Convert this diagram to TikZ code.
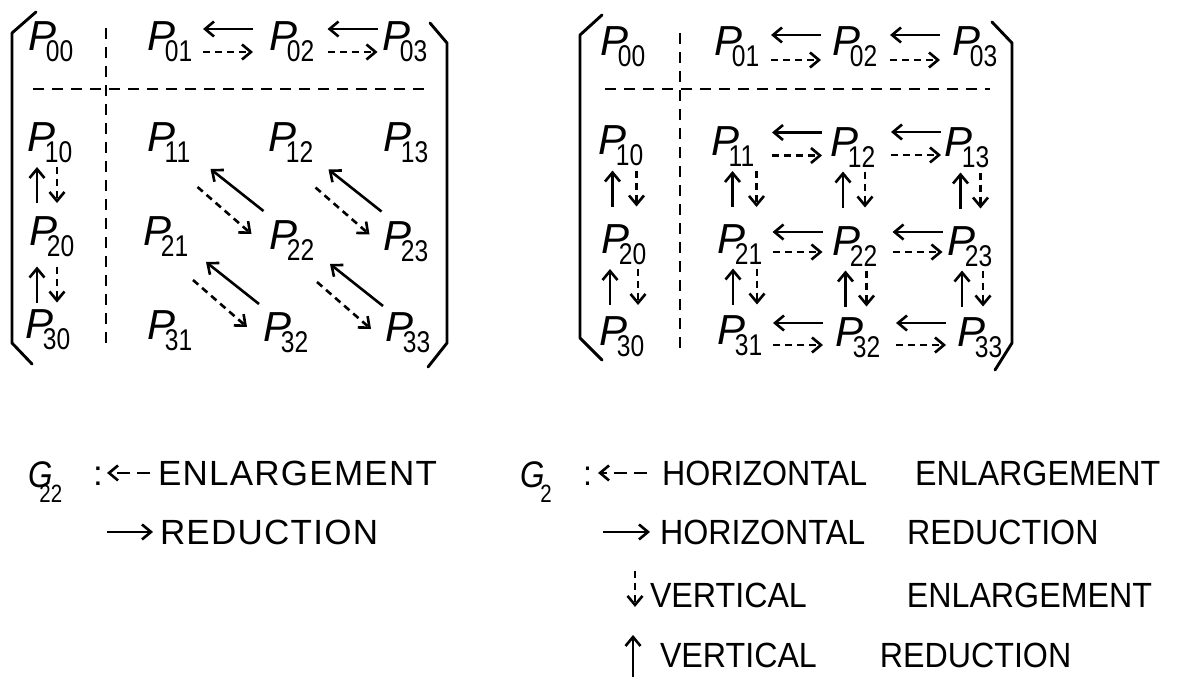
\documentclass[tikz,border=0pt]{standalone}
\usepackage{fontspec}
\setmainfont{Liberation Sans}
\newfontfamily\subfam[FakeStretch=0.82]{Liberation Sans}
\newfontfamily\gfam[FakeStretch=0.85]{Liberation Sans}
\newfontfamily\legfam[FakeStretch=0.92]{Liberation Sans}
\newfontfamily\legLfam[LetterSpace=3.6]{Liberation Sans}
\usetikzlibrary{arrows.meta,calc}

\newcommand\Pn[1]{{\fontsize{42}{42}\selectfont\itshape P}\kern-11pt\raisebox{-11pt}{\subfam\fontsize{30}{30}\selectfont #1}}
\newcommand\Gn[2]{{\gfam\fontsize{37}{37}\selectfont\itshape G}\kern#1pt\raisebox{-15pt}{\subfam\fontsize{25}{25}\selectfont #2}}

\newcommand\hpair[5]{%
 \draw[sarr] ($(#1)!.5!(#2)+(#3+25,#4)$) -- ($(#1)!.5!(#2)+(#3-25,#4)$);
 \draw[darr] ($(#1)!.5!(#2)+(#3-25,#5)$) -- ($(#1)!.5!(#2)+(#3+25,#5)$);}
\newcommand\vpair[5]{%
 \draw[sarr] ($(#1)!.5!(#2)+(#3,#5+18)$) -- ($(#1)!.5!(#2)+(#3,#5-18)$);
 \draw[darr] ($(#1)!.5!(#2)+(#4,#5-18)$) -- ($(#1)!.5!(#2)+(#4,#5+18)$);}
\newcommand\dpair[2]{%
 \draw[sarr] ($(#1)!.5!(#2)+(33,19)$) -- ($(#1)!.5!(#2)+(-20,-23)$);
 \draw[darr] ($(#1)!.5!(#2)+(-33,-5)$) -- ($(#1)!.5!(#2)+(21,42)$);}

\tikzset{
 pl/.style={inner sep=0pt, outer sep=0pt},
 sarr/.style={line width=2.6pt, -{Straight Barb[length=9pt,width=15pt]}},
 darr/.style={sarr, dash pattern=on 7pt off 5pt},
 larr/.style={sarr, dash pattern=on 13pt off 7pt},
 sep/.style={line width=2.6pt, dash pattern=on 11pt off 8pt},
 brk/.style={line width=2.9pt, line join=round, line cap=round},
 leg/.style={inner sep=0pt, outer sep=0pt, anchor=base west},
 legL/.style={leg, font=\legLfam\fontsize{35}{35}\selectfont},
 legR/.style={leg, font=\legfam\fontsize{35}{35}\selectfont},
}

\begin{document}
\begin{tikzpicture}[x=1pt,y=-1pt]
\useasboundingbox[fill=white] (0,0) rectangle (1178,677);

% ---------- left matrix ----------
\draw[brk] (36,12) -- (12,33) -- (12,343) -- (32,364);
\draw[brk] (430,23) -- (447,43) -- (447,343) -- (428,367);
\draw[sep] (33,89) -- (428,89);
\draw[sep] (106,28) -- (106,348);

\node[pl] (a00) at (51,42) {\Pn{00}};
\node[pl] (a01) at (170,42) {\Pn{01}};
\node[pl] (a02) at (292,42) {\Pn{02}};
\node[pl] (a03) at (405,42) {\Pn{03}};
\node[pl] (a10) at (50,143) {\Pn{10}};
\node[pl] (a11) at (169,143) {\Pn{11}};
\node[pl] (a12) at (291,143) {\Pn{12}};
\node[pl] (a13) at (406,143) {\Pn{13}};
\node[pl] (a20) at (52,237) {\Pn{20}};
\node[pl] (a21) at (166,237) {\Pn{21}};
\node[pl] (a22) at (292,241) {\Pn{22}};
\node[pl] (a23) at (406,242) {\Pn{23}};
\node[pl] (a30) at (48,330) {\Pn{30}};
\node[pl] (a31) at (170,331) {\Pn{31}};
\node[pl] (a32) at (286,333) {\Pn{32}};
\node[pl] (a33) at (408,333) {\Pn{33}};

\hpair{a01}{a02}{-3}{-13}{10}
\hpair{a02}{a03}{4}{-13}{10}
\vpair{a10}{a20}{-14}{6}{-5}
\vpair{a20}{a30}{-13}{7}{1}
\dpair{a11}{a22}
\dpair{a12}{a23}
\dpair{a21}{a32}
\dpair{a22}{a33}

% ---------- right matrix ----------
\draw[brk] (602,15) -- (580,35) -- (580,338) -- (602,360);
\draw[brk] (992,22) -- (1012,43) -- (1012,343) -- (995,370);
\draw[sep] (605,89) -- (990,89);
\draw[sep] (680,33) -- (680,353);

\node[pl] (b00) at (623,47) {\Pn{00}};
\node[pl] (b01) at (737,47) {\Pn{01}};
\node[pl] (b02) at (855,47) {\Pn{02}};
\node[pl] (b03) at (975,47) {\Pn{03}};
\node[pl] (b10) at (621,146) {\Pn{10}};
\node[pl] (b11) at (733,147) {\Pn{11}};
\node[pl] (b12) at (853,148) {\Pn{12}};
\node[pl] (b13) at (967,148) {\Pn{13}};
\node[pl] (b20) at (624,245) {\Pn{20}};
\node[pl] (b21) at (740,245) {\Pn{21}};
\node[pl] (b22) at (855,247) {\Pn{22}};
\node[pl] (b23) at (970,247) {\Pn{23}};
\node[pl] (b30) at (622,337) {\Pn{30}};
\node[pl] (b31) at (740,336) {\Pn{31}};
\node[pl] (b32) at (858,338) {\Pn{32}};
\node[pl] (b33) at (980,338) {\Pn{33}};

\hpair{b01}{b02}{0}{-12}{13}
\hpair{b02}{b03}{0}{-12}{13}
\hpair{b11}{b12}{4}{-15}{8}
\hpair{b12}{b13}{6}{-16}{7}
\hpair{b21}{b22}{0}{-14}{6}
\hpair{b22}{b23}{5}{-15}{5}
\hpair{b31}{b32}{-1}{-14}{8}
\hpair{b32}{b33}{2}{-15}{7}

\vpair{b10}{b20}{-10}{14}{-7}
\vpair{b11}{b21}{-4}{20}{-7}
\vpair{b12}{b22}{-11}{11}{-8}
\vpair{b13}{b23}{-8}{12}{-7}
\vpair{b20}{b30}{-13}{15}{-4}
\vpair{b21}{b31}{-7}{17}{-4}
\vpair{b22}{b32}{-11}{10}{-4}
\vpair{b23}{b33}{-13}{8}{-4}

% ---------- left legend ----------
\node[pl, anchor=base west] (g22) at (28,487) {\Gn{-13}{22}};
\node[legL] (lc) at (93,485) {:};
\node[legL] (le1) at (158,485) {ENLARGEMENT};
\node[legL] (le2) at (160,544) {REDUCTION};
\draw[larr] ([xshift=-8pt]le1.west) -- ([xshift=-51pt]le1.west);
\draw[sarr] ([xshift=-53pt]le2.west) -- ([xshift=-7pt]le2.west);

% ---------- right legend ----------
\node[pl, anchor=base west] (g2) at (520,487) {\Gn{-4}{2}};
\node[legR] (rc) at (583,485) {:};
\node[legR] (r1) at (662,485) {HORIZONTAL\hspace{48pt}ENLARGEMENT};
\node[legR] (r2) at (660,544) {HORIZONTAL\hspace{42pt}REDUCTION};
\node[legR] (r3) at (650,607) {VERTICAL\hspace{100pt}ENLARGEMENT};
\node[legR] (r4) at (660,667) {VERTICAL\hspace{63pt}REDUCTION};
\draw[larr] ([xshift=-15pt]r1.west) -- ([xshift=-64pt]r1.west);
\draw[sarr] ([xshift=-57pt]r2.west) -- ([xshift=-10pt]r2.west);
\draw[darr] ([xshift=-15pt,yshift=24pt]r3.west) -- ([xshift=-15pt,yshift=-12pt]r3.west);
\draw[sarr] ([xshift=-27pt,yshift=-22pt]r4.west) -- ([xshift=-27pt,yshift=20pt]r4.west);
\end{tikzpicture}
\end{document}
